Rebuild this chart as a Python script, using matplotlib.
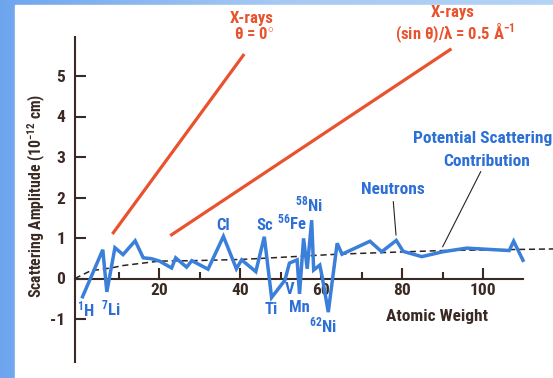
import numpy as np
import matplotlib
matplotlib.use("Agg")
import matplotlib.pyplot as plt
from matplotlib import font_manager as fm
from matplotlib.colors import LinearSegmentedColormap
from matplotlib.patches import Rectangle

# ---------------- data ----------------
neutron_x = [1, 6, 7, 9, 11, 14, 16, 18, 20, 23, 24, 26.7, 28, 32, 35.8, 39, 40.3,
             43.8, 45.9, 47.7, 51.0, 52.1, 54.0, 54.6, 55.6, 56.5, 57.6, 58.1, 59.6,
             60.2, 61.7, 63.9, 65.1, 72, 74.9, 78.5, 80.2, 84.8, 90, 95.9, 106.4,
             107.5, 109.8]
neutron_y = [-0.45, 0.71, -0.33, 0.76, 0.59, 0.93, 0.51, 0.49, 0.43, 0.26, 0.51, 0.28,
             0.44, 0.23, 1.04, 0.24, 0.46, 0.17, 1.03, -0.47, -0.04, 0.38, 0.46, -0.38,
             0.99, 0.24, 1.44, 0.21, 0.33, 0.04, -0.83, 0.87, 0.60, 0.92, 0.66, 0.94,
             0.67, 0.54, 0.66, 0.75, 0.69, 0.92, 0.45]

potential_x = [-0.9, 3, 8, 11, 20, 28, 40, 44, 64, 78, 90, 117.5]
potential_y = [0.0, 0.19, 0.26, 0.32, 0.43, 0.44, 0.47, 0.49, 0.60, 0.65, 0.69, 0.73]

xray0_x = [8.6, 40.7]
xray0_y = [1.13, 5.51]
xray05_x = [23.0, 91.8]
xray05_y = [1.08, 5.65]

y_ticks = [-1, 0, 1, 2, 3, 4, 5]
x_major = [20, 40, 60, 80, 100]
x_minor = [10, 30, 50, 70, 90]

# ---------------- fonts ----------------
avail = {f.name for f in fm.fontManager.ttflist}
FONT = "DejaVu Sans"
for cand in ["Liberation Sans Narrow", "Roboto Condensed", "DejaVu Sans Condensed",
             "Open Sans Condensed", "Roboto", "Liberation Sans"]:
    if cand in avail:
        FONT = cand
        break
plt.rcParams["font.family"] = [FONT, "DejaVu Sans"]
plt.rcParams["font.weight"] = "bold"
plt.rcParams["mathtext.fontset"] = "custom"
plt.rcParams["mathtext.rm"] = FONT
plt.rcParams["mathtext.bf"] = FONT + ":bold"
plt.rcParams["mathtext.default"] = "bf"

W, H = 553, 378
fig = plt.figure(figsize=(W / 100, H / 100), dpi=100)

# background: blue slide gradient + white panel
bg = fig.add_axes([0, 0, 1, 1], zorder=-10)
cmap = LinearSegmentedColormap.from_list("bg", ["#6ea6ee", "#a6c9f3", "#b4d3f5"])
bg.imshow(np.linspace(0, 1, 256)[None, :], aspect="auto", cmap=cmap, extent=[0, 1, 0, 1])
bg.add_patch(Rectangle((15 / W, 0), 1, 1 - 5 / H, color="white", transform=bg.transAxes))
bg.set_xlim(0, 1); bg.set_ylim(0, 1); bg.axis("off")

# data axes mapped so that data lands on reference pixels
def px2x(px):
    return (px - 78.5) / 4.048

def py2y(py):
    return (278.5 - py) / 40.5

ax = fig.add_axes([0, 0, 1, 1], zorder=1)
ax.patch.set_alpha(0)
ax.set_xlim(px2x(0), px2x(W))
ax.set_ylim(py2y(H), py2y(0))

AXC = "#3b2a24"
BLUE_L = "#3a7fd9"
BLUE_T = "#2c6fd6"
RED = "#e9522c"

for s in ["top", "right"]:
    ax.spines[s].set_visible(False)
ax.spines["left"].set_position(("data", px2x(75)))
ax.spines["left"].set_bounds(py2y(361.7), py2y(36.7))
ax.spines["bottom"].set_position(("data", 0))
ax.spines["bottom"].set_bounds(px2x(75), px2x(523))
for s in ["left", "bottom"]:
    ax.spines[s].set_color(AXC)
    ax.spines[s].set_linewidth(1.5)

ax.set_yticks(y_ticks)
ax.set_yticklabels([str(v) for v in y_ticks])
ax.set_xticks(x_major)
ax.set_xticklabels([str(v) for v in x_major])
ax.set_xticks(x_minor, minor=True)
ax.tick_params(axis="y", direction="in", length=8, width=1.5, color=AXC,
               labelsize=12.5, labelcolor=AXC, pad=7)
ax.tick_params(axis="x", which="major", direction="in", length=8, width=1.5, color=AXC,
               labelsize=12.5, labelcolor=AXC, pad=3)
ax.tick_params(axis="x", which="minor", direction="in", length=5, width=1.5, color=AXC)
for lab in ax.get_xticklabels() + ax.get_yticklabels():
    lab.set_fontweight("bold")

# lines
ax.plot(potential_x, potential_y, color="#2a2320", lw=1.1, ls=(0, (4, 2.5)), zorder=2)
ax.plot(neutron_x, neutron_y, color=BLUE_L, lw=2.5, zorder=3, solid_joinstyle="miter")
ax.plot(xray0_x, xray0_y, color=RED, lw=2.3, zorder=3)
ax.plot(xray05_x, xray05_y, color=RED, lw=2.3, zorder=3)

# pointer lines
ax.plot([px2x(393.3), px2x(396)], [py2y(201.7), py2y(235)], color="#2a2320", lw=0.8, zorder=2)
ax.plot([px2x(480.7), px2x(442.7)], [py2y(171.7), py2y(246.7)], color="#2a2320", lw=0.8, zorder=2)

def ftext(px, py, s, **kw):
    kw.setdefault("ha", "center")
    kw.setdefault("va", "center")
    kw.setdefault("fontweight", "bold")
    fig.text(px / W, 1 - py / H, s, **kw)

# red annotations
ftext(252, 18, "X-rays", color=RED, fontsize=12)
ftext(254, 34, "θ = 0$^{\\circ}$", color=RED, fontsize=12)
ftext(453, 13, "X-rays", color=RED, fontsize=12)
ftext(455, 33, "(sin θ)/λ = 0.5 Å$^{-1}$", color=RED, fontsize=12)

# blue annotations
ftext(483, 139, "Potential Scattering", color=BLUE_T, fontsize=12.5)
ftext(487, 161, "Contribution", color=BLUE_T, fontsize=12.5)
ftext(393, 189, "Neutrons", color=BLUE_T, fontsize=12.5)
ftext(86, 309, "$^{1}$H", color=BLUE_T, fontsize=12)
ftext(111, 308, "$^{7}$Li", color=BLUE_T, fontsize=12)
ftext(223, 226, "Cl", color=BLUE_T, fontsize=12)
ftext(265, 226, "Sc", color=BLUE_T, fontsize=12)
ftext(292, 222, "$^{56}$Fe", color=BLUE_T, fontsize=12)
ftext(309, 204, "$^{58}$Ni", color=BLUE_T, fontsize=12)
ftext(271, 309, "Ti", color=BLUE_T, fontsize=12)
ftext(290, 290, "V", color=BLUE_T, fontsize=12)
ftext(299, 308, "Mn", color=BLUE_T, fontsize=12)
ftext(323, 325, "$^{62}$Ni", color=BLUE_T, fontsize=12)

# axis titles
ftext(437, 317, "Atomic Weight", color=AXC, fontsize=12.5)
ftext(37, 196, "Scattering Amplitude (10$^{-12}$ cm)", color=AXC, fontsize=11.3,
      rotation=90)

fig.savefig("out.png", dpi=100)
